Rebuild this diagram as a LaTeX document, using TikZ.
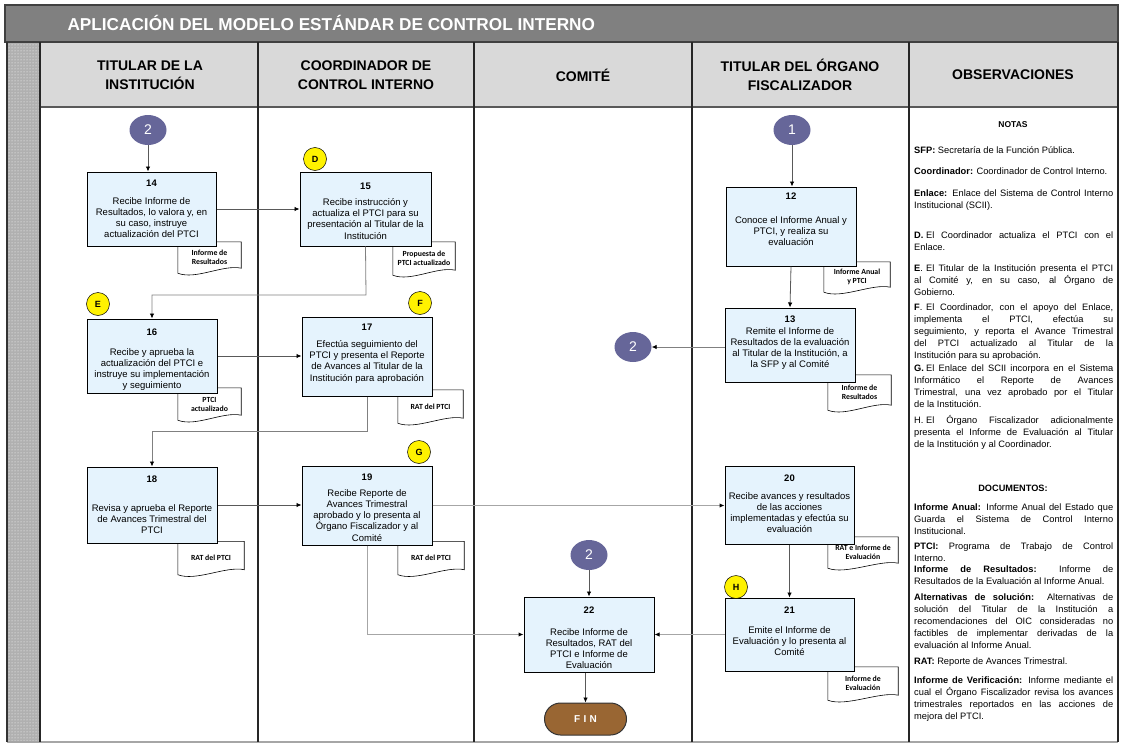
\documentclass[tikz,border=0pt]{standalone}
\usepackage{fontspec}
\setmainfont{Liberation Sans}
\newfontfamily\docfont{Carlito}
\usetikzlibrary{positioning,shapes.geometric,arrows.meta,patterns}
\definecolor{titlegray}{HTML}{808080}
\definecolor{headgray}{HTML}{D9D9D9}
\definecolor{stripegray}{HTML}{B0B0B0}
\definecolor{boxblue}{HTML}{E5F3FD}
\definecolor{connblue}{HTML}{666699}
\definecolor{finbrown}{HTML}{996633}
\definecolor{darkline}{HTML}{595959}
\definecolor{midline}{HTML}{808080}
\definecolor{lightline}{HTML}{A6A6A6}
\tikzset{stepbox/.style = {draw=black, line width=1pt, fill=boxblue, inner sep=0pt}}
\tikzset{steptext/.style = {align=center, anchor=north, inner sep=0pt, font=\fontsize{9.5}{11.3}\selectfont}}
\tikzset{stepnum/.style = {inner sep=0pt, font=\bfseries\fontsize{9.5}{11}\selectfont}}
\tikzset{docu/.style = {align=center, inner sep=0pt, font=\docfont\bfseries\fontsize{7.8}{9}\selectfont}}
\tikzset{docline/.style = {draw=black, line width=0.6pt}}
\tikzset{offpage/.style = {ellipse, fill=connblue, minimum width=37pt, minimum height=30pt, inner sep=0pt, text=white, font=\fontsize{14}{14}\selectfont}}
\tikzset{letterdot/.style = {circle, draw=black, line width=0.5pt, fill=yellow, minimum size=23pt, inner sep=0pt, font=\bfseries\fontsize{9}{9}\selectfont}}
\tikzset{terminal/.style = {draw=black!80, line width=1pt, fill=finbrown, minimum width=82pt, minimum height=32pt, rounded corners=16pt, text=white, font=\bfseries\fontsize{10}{10}\selectfont}}
\tikzset{headtext/.style = {align=center, font=\bfseries\fontsize{14}{19}\selectfont}}
\tikzset{note/.style = {anchor=north west, text width=199pt, align=justify, inner sep=0pt, font=\fontsize{9.3}{12}\selectfont, execute at begin node={\hyphenpenalty=10000\relax}}}
\tikzset{notehead/.style = {inner sep=0pt, font=\bfseries\fontsize{8.5}{10}\selectfont}}
\tikzset{flow/.style = {draw=darkline, line width=0.8pt, -{Latex[length=5pt, width=4.5pt, color=black]}}}
\tikzset{flowmid/.style = {flow, draw=midline}}
\tikzset{flowlight/.style = {flow, draw=lightline, line width=1pt}}
\newcommand{\notelabel}[1]{\hangindent=12pt\hangafter=1\noindent\makebox[12pt][l]{#1}}

\begin{document}
\begin{tikzpicture}[x=1pt, y=-1pt]
  \useasboundingbox (0,0) rectangle (1122,744);

  % frame, title and lanes
  \fill[stripegray] (7,42) rectangle (40,742);
  \fill[pattern=dots, pattern color=white] (7,42) rectangle (40,742);
  \fill[headgray] (40,42) rectangle (1118,107);
  \draw[fill=titlegray, draw=black!75, line width=1.2pt] (5,5) rectangle (1118,42);
  \node[anchor=west, text=white, font=\bfseries\fontsize{17.2}{20}\selectfont] (title) at (64,23) {APLICACIÓN DEL MODELO ESTÁNDAR DE CONTROL INTERNO};
  \draw[darkline, line width=1.2pt] (40,107) -- (1118,107);
  \draw[lightline, line width=1.2pt] (7,742) -- (1118,742);
  \draw[black!80, line width=1.2pt] (7,42) -- (7,742);
  \foreach \x in {40,258,474,692,909,1118}
    \draw[black!85, line width=1.2pt] (\x,42) -- (\x,742);

  \node[headtext] (h1) at (150,75) {TITULAR DE LA\\INSTITUCIÓN};
  \node[headtext] (h2) at (366,75) {COORDINADOR DE\\CONTROL INTERNO};
  \node[headtext] (h3) at (583,75) {COMITÉ};
  \node[headtext] (h4) at (800,75) {TITULAR DEL ÓRGANO\\FISCALIZADOR};
  \node[headtext] (h5) at (1013,75) {OBSERVACIONES};

  % documents (behind the boxes)
  \node[docu, minimum width=63pt, minimum height=31pt] (d14) at (209.5,257.5) {Informe de\\Resultados};
  \node[docu, minimum width=62pt, minimum height=33pt] (d15) at (424,258.5) {Propuesta de\\PTCI actualizado};
  \node[docu, minimum width=63pt, minimum height=32pt] (d16) at (209.5,404) {PTCI\\actualizado};
  \node[docu, minimum width=65pt, minimum height=33pt] (d17) at (430.5,406.5) {RAT del PTCI};
  \node[docu, minimum width=66pt, minimum height=33pt] (d18) at (211,558) {RAT del PTCI};
  \node[docu, minimum width=66pt, minimum height=33pt] (d19) at (431,558) {RAT del PTCI};
  \node[docu, minimum width=66pt, minimum height=30pt] (d12) at (857,277) {Informe Anual\\y PTCI};
  \node[docu, minimum width=63pt, minimum height=35pt] (d13) at (859.5,392.5) {Informe de\\Resultados};
  \node[docu, minimum width=70pt, minimum height=31pt] (d20) at (863,552.5) {RAT e Informe de\\Evaluación};
  \node[docu, minimum width=70pt, minimum height=33pt] (d21) at (863,683.5) {Informe de\\Evaluación};
  \foreach \d in {d14,d15,d16,d17,d18,d19,d12,d13,d20,d21}
    \draw[docline] (\d.north west) -- (\d.north east) -- ([yshift=5pt]\d.south east)
      .. controls +(-18pt,4pt) and +(18pt,-7pt) .. (\d.south west) -- cycle;

  % activity boxes
  \node[stepbox, minimum width=129pt, minimum height=74pt] (s14) at (151.5,209) {};
  \node[stepbox, minimum width=131pt, minimum height=74pt] (s15) at (365.5,209) {};
  \node[stepbox, minimum width=130pt, minimum height=74pt] (s16) at (152,356) {};
  \node[stepbox, minimum width=130pt, minimum height=79pt] (s17) at (367,356.5) {};
  \node[stepbox, minimum width=130pt, minimum height=76pt] (s18) at (152,505) {};
  \node[stepbox, minimum width=130pt, minimum height=79pt] (s19) at (367,505.5) {};
  \node[stepbox, minimum width=130pt, minimum height=79pt] (s12) at (791,226.5) {};
  \node[stepbox, minimum width=130pt, minimum height=74pt] (s13) at (790,345) {};
  \node[stepbox, minimum width=129pt, minimum height=78pt] (s20) at (789.5,505) {};
  \node[stepbox, minimum width=129pt, minimum height=73pt] (s21) at (789.5,634.5) {};
  \node[stepbox, minimum width=130pt, minimum height=75pt] (s22) at (589,634.5) {};

  \node[stepnum] (n14) at (151.5,183) {14};
  \node[stepnum] (n15) at (365.5,186) {15};
  \node[stepnum] (n16) at (152,332) {16};
  \node[stepnum] (n17) at (367,327) {17};
  \node[stepnum] (n18) at (152,479) {18};
  \node[stepnum] (n19) at (367,477) {19};
  \node[stepnum] (n12) at (791,196) {12};
  \node[stepnum] (n13) at (790,319) {13};
  \node[stepnum] (n20) at (789.5,478) {20};
  \node[stepnum] (n21) at (789.5,610) {21};
  \node[stepnum] (n22) at (589,610) {22};

  \node[steptext] (t14) at (151.5,197) {Recibe Informe de\\Resultados, lo valora y, en\\su caso, instruye\\actualización del PTCI};
  \node[steptext] (t15) at (365.5,198) {Recibe instrucción y\\actualiza el PTCI para su\\presentación al Titular de la\\Institución};
  \node[steptext] (t16) at (152,348) {Recibe y aprueba la\\actualización del PTCI e\\instruye su implementación\\y seguimiento};
  \node[steptext] (t17) at (367,340) {Efectúa seguimiento del\\PTCI y presenta el Reporte\\de Avances al Titular de la\\Institución para aprobación};
  \node[steptext] (t18) at (152,504) {Revisa y aprueba el Reporte\\de Avances Trimestral del\\PTCI};
  \node[steptext] (t19) at (367,489) {Recibe Reporte de\\Avances Trimestral\\aprobado y lo presenta al\\Órgano Fiscalizador y al\\Comité};
  \node[steptext] (t12) at (791,216) {Conoce el Informe Anual y\\PTCI, y realiza su\\evaluación};
  \node[steptext] (t13) at (790,327) {Remite el Informe de\\Resultados de la evaluación\\al Titular de la Institución, a\\la SFP y al Comité};
  \node[steptext] (t20) at (789.5,492) {Recibe avances y resultados\\de las acciones\\implementadas y efectúa su\\evaluación};
  \node[steptext] (t21) at (789.5,626) {Emite el Informe de\\Evaluación y lo presenta al\\Comité};
  \node[steptext] (t22) at (589,628) {Recibe Informe de\\Resultados, RAT del\\PTCI e Informe de\\Evaluación};

  % connectors and markers
  \node[offpage] (c2a) at (148,130) {2};
  \node[offpage] (c1) at (792,130) {1};
  \node[offpage] (c2b) at (633,347) {2};
  \node[offpage] (c2c) at (589,555) {2};
  \node[terminal] (fin) at (585.5,719) {F\,\,I\,\,N};

  \node[letterdot] (mD) at (315,159) {D};
  \node[letterdot] (mE) at (98,304) {E};
  \node[letterdot] (mF) at (420,303) {F};
  \node[letterdot] (mG) at (419,452) {G};
  \node[letterdot] (mH) at (736,587) {H};

  \coordinate (k15) at (366,295);
  \coordinate (k17) at (367,431);

  \draw[flow] (c2a) -- (c2a |- s14.north);
  \draw[flow] (s14.east) -- (s15.west);
  \draw[flowmid] (s15.south) -- (k15) -| (s16.north);
  \draw[flow] (s16.east) -- (s16.east -| s17.west);
  \draw[flowmid] (s17.south) -- (k17) -| (s18.north);
  \draw[flow] (s18.east) -- (s18.east -| s19.west);
  \draw[flowlight] (s19.east) -- (s19.east -| s20.west);
  \draw[flowlight] (s19.south) |- (s22.west);
  \draw[flow] (c1) -- (c1 |- s12.north);
  \draw[flow] (s12.south) -- (s13.north);
  \draw[flowmid] (s13.west |- c2b) -- (c2b.east);
  \draw[flow] (s20.south) -- (s21.north);
  \draw[flowlight] (s21.west) -- (s22.east);
  \draw[flow] (c2c) -- (s22.north);
  \draw[flow] (s22.south -| fin) -- (fin.north);

  % observations
  \node[notehead] (notas) at (1013,125) {NOTAS};
  \node[note] (o1) at (914,146) {\textbf{SFP:} Secretaría de la Función Pública.};
  \node[note] (o2) at (914,168) {\textbf{Coordinador:} Coordinador de Control Interno.};
  \node[note] (o3) at (914,190) {\textbf{Enlace:} Enlace del Sistema de Control Interno\linebreak Institucional (SCII).};
  \node[note] (oD) at (914,232) {\notelabel{\textbf{D.}}El Coordinador actualiza el PTCI con el\linebreak Enlace.};
  \node[note] (oE) at (914,264) {\notelabel{\textbf{E}.}El Titular de la Institución presenta el PTCI\linebreak al Comité y, en su caso, al Órgano de\linebreak Gobierno.};
  \node[note] (oF) at (914,304) {\notelabel{\textbf{F}.}El Coordinador, con el apoyo del Enlace,\linebreak implementa el PTCI, efectúa su\linebreak seguimiento, y reporta el Avance Trimestral\linebreak del PTCI actualizado al Titular de la\linebreak Institución para su aprobación.};
  \node[note] (oG) at (914,365) {\notelabel{\textbf{G.}}El Enlace del SCII incorpora en el Sistema\linebreak Informático el Reporte de Avances\linebreak Trimestral, una vez aprobado por el Titular\linebreak de la Institución.};
  \node[note] (oH) at (914,415) {\notelabel{H.}El Órgano Fiscalizador adicionalmente\linebreak presenta el Informe de Evaluación al Titular\linebreak de la Institución y al Coordinador.};
  \node[notehead, font=\bfseries\fontsize{9.2}{10}\selectfont] (docs) at (1013,488) {DOCUMENTOS:};
  \node[note] (p1) at (914,504) {\textbf{Informe Anual:} Informe Anual del Estado que\linebreak Guarda el Sistema de Control Interno\linebreak Institucional.};
  \node[note] (p2) at (914,543) {\textbf{PTCI:} Programa de Trabajo de Control\linebreak Interno.};
  \node[note] (p3) at (914,566) {\textbf{Informe de Resultados:} Informe de\linebreak Resultados de la Evaluación al Informe Anual.};
  \node[note] (p4) at (914,593) {\textbf{Alternativas de solución:} Alternativas de\linebreak solución del Titular de la Institución a\linebreak recomendaciones del OIC consideradas no\linebreak factibles de implementar derivadas de la\linebreak evaluación al Informe Anual.};
  \node[note] (p5) at (914,658) {\textbf{RAT:} Reporte de Avances Trimestral.};
  \node[note] (p6) at (914,676) {\textbf{Informe de Verificación:} Informe mediante el\linebreak cual el Órgano Fiscalizador revisa los avances\linebreak trimestrales reportados en las acciones de\linebreak mejora del PTCI.};
\end{tikzpicture}
\end{document}
